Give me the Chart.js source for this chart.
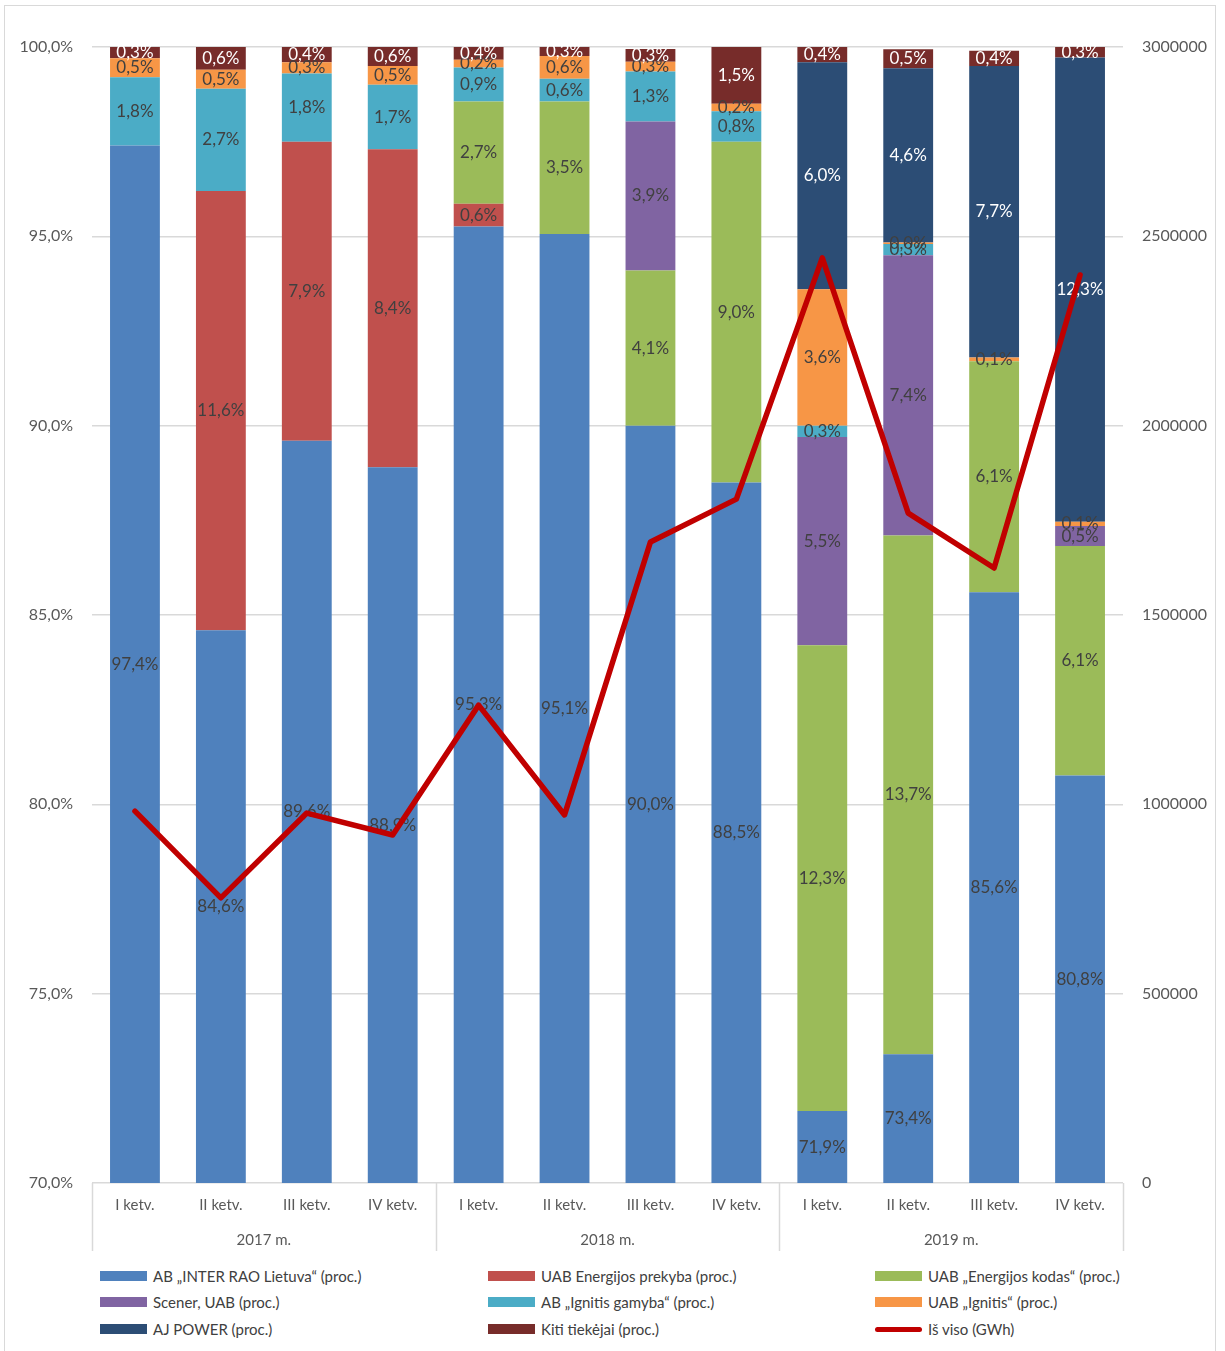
<!DOCTYPE html>
<html>
<head>
<meta charset="utf-8">
<script src="https://cdn.jsdelivr.net/npm/chart.js@4.4.1/dist/chart.umd.min.js"></script>
<style>
  body { margin: 0; background: #fff; font-family: Lato, sans-serif; }
  #frame { position: absolute; left: 4px; top: 5px; width: 1212px; height: 1400px; border: 1.5px solid #d9d9d9; box-sizing: border-box; }
  #wrap { position: absolute; left: 0; top: 0; width: 1225px; height: 1260px; }
  #legend { position: absolute; left: 0; top: 0; width: 1225px; }
  .item { position: absolute; height: 20px; display: flex; align-items: center; font-size: 15px; color: #404040; white-space: nowrap; }
  .box { width: 47px; height: 10px; margin-right: 6px; }
  .ln { width: 47px; height: 5px; border-radius: 3px; margin-right: 6px; }
</style>
</head>
<body>
<div id="frame"></div>
<div id="wrap"><canvas id="chart"></canvas></div>
<div id="legend"></div>
<script>
var categories = ['I ketv.', 'II ketv.', 'III ketv.', 'IV ketv.', 'I ketv.', 'II ketv.', 'III ketv.', 'IV ketv.', 'I ketv.', 'II ketv.', 'III ketv.', 'IV ketv.'];
var years = ['2017 m.', '2018 m.', '2019 m.'];

var interRao = [97.4, 84.6, 89.6, 88.9, 95.26, 95.06, 90.0, 88.5, 71.9, 73.4, 85.6, 80.76];
var energijosPrekyba = [null, 11.6, 7.9, 8.4, 0.6, null, null, null, null, null, null, null];
var energijosKodas = [null, null, null, null, 2.7, 3.5, 4.1, 9.0, 12.3, 13.7, 6.1, 6.06];
var scener = [null, null, null, null, null, null, 3.93, null, 5.5, 7.4, null, 0.53];
var ignitisGamyba = [1.8, 2.7, 1.8, 1.7, 0.9, 0.6, 1.32, 0.8, 0.3, 0.3, null, null];
var ignitis = [0.5, 0.5, 0.3, 0.5, 0.2, 0.6, 0.26, 0.2, 3.6, 0.04, 0.1, 0.11];
var ajPower = [null, null, null, null, null, null, null, null, 6.0, 4.6, 7.7, 12.26];
var kiti = [0.3, 0.6, 0.4, 0.6, 0.4, 0.3, 0.34, 1.5, 0.4, 0.5, 0.4, 0.3];
var isViso = [982000, 753000, 977000, 919000, 1262000, 972000, 1693000, 1806000, 2443000, 1769000, 1624000, 2398000];

var leftTicks = [70, 75, 80, 85, 90, 95, 100];
var rightTicks = [0, 500000, 1000000, 1500000, 2000000, 2500000, 3000000];

var series = [
    { label: 'AB \u201eINTER RAO Lietuva\u201c (proc.)', data: interRao, color: '#4F81BD', text: '#404040' },
    { label: 'UAB Energijos prekyba (proc.)', data: energijosPrekyba, color: '#C0504D', text: '#404040' },
    { label: 'UAB \u201eEnergijos kodas\u201c (proc.)', data: energijosKodas, color: '#9BBB59', text: '#404040' },
    { label: 'Scener, UAB (proc.)', data: scener, color: '#8064A2', text: '#404040' },
    { label: ' AB \u201eIgnitis gamyba\u201c (proc.)', data: ignitisGamyba, color: '#4BACC6', text: '#404040' },
    { label: 'UAB \u201eIgnitis\u201c (proc.)', data: ignitis, color: '#F79646', text: '#404040' },
    { label: 'AJ POWER (proc.)', data: ajPower, color: '#2C4D75', text: '#ffffff' },
    { label: 'Kiti tiek\u0117jai (proc.)', data: kiti, color: '#772C2A', text: '#ffffff' }
];
var lineLabel = 'I\u0161 viso (GWh)';

function pct(v) {
    return v.toFixed(1).replace('.', ',') + '%';
}

var datasets = [{
    type: 'line',
    label: lineLabel,
    data: isViso,
    yAxisID: 'y1',
    borderColor: '#C00000',
    backgroundColor: '#C00000',
    borderWidth: 5.5,
    pointRadius: 0,
    tension: 0,
    borderCapStyle: 'round',
    borderJoinStyle: 'round'
}];
series.forEach(function (s) {
    datasets.push({
        type: 'bar',
        label: s.label,
        data: s.data,
        backgroundColor: s.color,
        textColor: s.text,
        yAxisID: 'y',
        stack: 'a',
        borderWidth: 0,
        barPercentage: 0.58,
        categoryPercentage: 1
    });
});

// segment labels, drawn before the line so the line sits on top
var segLabels = {
    id: 'segLabels',
    beforeDatasetDraw: function (chart, args) {
        if (args.meta.type !== 'line') return;
        var ctx = chart.ctx, area = chart.chartArea;
        ctx.save();
        ctx.font = '17px Lato';
        ctx.textAlign = 'center';
        ctx.textBaseline = 'middle';
        chart.data.datasets.forEach(function (ds, i) {
            if (ds.type !== 'bar') return;
            var meta = chart.getDatasetMeta(i);
            meta.data.forEach(function (el, j) {
                var v = ds.data[j];
                if (v === null || v === undefined) return;
                var top = Math.max(Math.min(el.y, el.base), area.top);
                var bot = Math.min(Math.max(el.y, el.base), area.bottom);
                ctx.fillStyle = ds.textColor;
                ctx.fillText(pct(v), el.x, (top + bot) / 2);
            });
        });
        ctx.restore();
    }
};

// year row and group separators under the category axis
var yearGroups = {
    id: 'yearGroups',
    afterDraw: function (chart) {
        var ctx = chart.ctx, area = chart.chartArea;
        var per = categories.length / years.length;
        var step = (area.right - area.left) / categories.length;
        ctx.save();
        ctx.strokeStyle = '#d9d9d9';
        ctx.lineWidth = 1.5;
        for (var g = 0; g <= years.length; g++) {
            var px = Math.round(area.left + g * per * step) + 0.5;
            ctx.beginPath();
            ctx.moveTo(px, area.bottom);
            ctx.lineTo(px, area.bottom + 68);
            ctx.stroke();
        }
        ctx.font = '15px Lato';
        ctx.fillStyle = '#595959';
        ctx.textAlign = 'center';
        ctx.textBaseline = 'middle';
        years.forEach(function (y, g) {
            var cx = area.left + (g + 0.5) * per * step;
            ctx.fillText(y, cx, area.bottom + 57);
        });
        ctx.restore();
    }
};

var ctx = document.getElementById('chart').getContext('2d');
var chart = new Chart(ctx, {
    data: { labels: categories, datasets: datasets },
    plugins: [segLabels, yearGroups],
    options: {
        responsive: true,
        maintainAspectRatio: false,
        animation: false,
        layout: { padding: { top: 47, left: 0, right: 0, bottom: 0 } },
        plugins: { legend: { display: false }, tooltip: { enabled: false } },
        scales: {
            x: {
                stacked: true,
                grid: { display: false, drawTicks: false },
                border: { display: false },
                ticks: { font: { family: 'Lato', size: 15 }, color: '#595959', padding: 13, maxRotation: 0, autoSkip: false },
                afterFit: function (s) { s.height = 77; }
            },
            y: {
                position: 'left',
                stacked: true,
                min: 70,
                max: 100,
                afterBuildTicks: function (s) { s.ticks = leftTicks.map(function (v) { return { value: v }; }); },
                grid: { color: '#d9d9d9', lineWidth: 1.5, drawTicks: false },
                border: { display: false },
                ticks: { font: { family: 'Lato', size: 16 }, color: '#595959', padding: 19, callback: function (v) { return pct(v); } },
                afterFit: function (s) { s.width = 92; }
            },
            y1: {
                position: 'right',
                min: 0,
                max: 3000000,
                afterBuildTicks: function (s) { s.ticks = rightTicks.map(function (v) { return { value: v }; }); },
                grid: { drawOnChartArea: false, drawTicks: false },
                border: { display: false },
                ticks: { font: { family: 'Lato', size: 16 }, color: '#595959', padding: 19, callback: function (v) { return String(v); } },
                afterFit: function (s) { s.width = 102; }
            }
        }
    }
});

// legend in three fixed columns
var legendEl = document.getElementById('legend');
var cols = [100, 488, 875];
var rows = [1266, 1292, 1319];
var items = series.map(function (s) { return { label: s.label, color: s.color, line: false }; });
items.push({ label: lineLabel, color: '#C00000', line: true });
items.forEach(function (it, i) {
    var d = document.createElement('div');
    d.className = 'item';
    d.style.left = cols[i % 3] + 'px';
    d.style.top = rows[Math.floor(i / 3)] + 'px';
    var sw = document.createElement('span');
    sw.className = it.line ? 'ln' : 'box';
    sw.style.background = it.color;
    var t = document.createElement('span');
    t.textContent = it.label;
    d.appendChild(sw);
    d.appendChild(t);
    legendEl.appendChild(d);
});
</script>
</body>
</html>
